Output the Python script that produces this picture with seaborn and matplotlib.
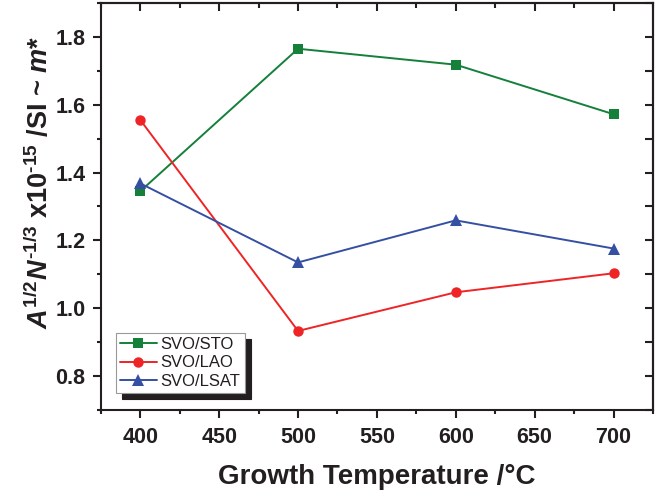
import matplotlib
matplotlib.use('Agg')
import matplotlib.pyplot as plt
import pandas as pd
import seaborn as sns
from matplotlib.ticker import MultipleLocator

temperature = [400, 500, 600, 700]
svo_sto = [1.345, 1.765, 1.718, 1.572]
svo_lao = [1.555, 0.933, 1.047, 1.103]
svo_lsat = [1.368, 1.135, 1.259, 1.176]

series_names = ['SVO/STO', 'SVO/LAO', 'SVO/LSAT']
series_colors = ['#14803a', '#ee2426', '#3550a2']
series_markers = ['s', 'o', '^']

sns.set_style('ticks')
plt.rcParams['font.family'] = ['Liberation Sans', 'DejaVu Sans']
plt.rcParams['font.weight'] = 'bold'
plt.rcParams['xtick.labelsize'] = 15.5
plt.rcParams['ytick.labelsize'] = 15.5
plt.rcParams['mathtext.fontset'] = 'custom'
plt.rcParams['mathtext.rm'] = 'Liberation Sans:bold'
plt.rcParams['mathtext.it'] = 'Liberation Sans:italic:bold'
plt.rcParams['mathtext.bf'] = 'Liberation Sans:bold'
ink = '#231f20'

df = pd.DataFrame({
    'temp': temperature * 3,
    'value': svo_sto + svo_lao + svo_lsat,
    'sample': [n for n in series_names for _ in temperature],
})

fig = plt.figure(figsize=(6.68, 4.91), dpi=100)
ax = fig.add_axes([0.151, 0.165, 0.8265, 0.829])

for name, color, marker in zip(series_names, series_colors, series_markers):
    sns.lineplot(data=df[df['sample'] == name], x='temp', y='value',
                 color=color, marker=marker, markersize=8.5 if marker == '^' else 7.5,
                 markeredgewidth=0, linewidth=1.4, label=name, ax=ax)

ax.set_xlim(375, 725)
ax.set_ylim(0.7, 1.9)
ax.xaxis.set_major_locator(MultipleLocator(50))
ax.xaxis.set_minor_locator(MultipleLocator(25))
ax.set_yticks([0.8, 1.0, 1.2, 1.4, 1.6, 1.8])
ax.set_yticklabels(['0.8', '1.0', '1.2', '1.4', '1.6', '1.8'])
ax.yaxis.set_minor_locator(MultipleLocator(0.1))

for s in ax.spines.values():
    s.set_linewidth(1.5)
    s.set_color(ink)
    s.set_visible(True)
ax.tick_params(which='major', direction='out', length=5.5, width=1.5,
               color=ink, labelcolor=ink, labelsize=15.5)
ax.tick_params(which='minor', direction='out', length=3, width=1.5, color=ink)
ax.tick_params(axis='x', which='major', pad=6.5)
ax.tick_params(axis='y', which='major', pad=5.5)
for lab in ax.get_xticklabels() + ax.get_yticklabels():
    lab.set_fontsize(15.5)
    lab.set_fontweight('bold')

top = ax.secondary_xaxis('top')
top.xaxis.set_major_locator(MultipleLocator(50))
top.xaxis.set_minor_locator(MultipleLocator(25))
top.tick_params(which='major', direction='in', length=6, width=1.5, color=ink, labeltop=False)
top.tick_params(which='minor', direction='in', length=3.5, width=1.5, color=ink)
top.spines['top'].set_linewidth(1.5)
right = ax.secondary_yaxis('right')
right.yaxis.set_major_locator(MultipleLocator(0.1))
right.yaxis.set_minor_locator(MultipleLocator(0.1))
right.tick_params(which='major', direction='in', length=6, width=1.5, color=ink, labelright=False)
right.spines['right'].set_linewidth(1.5)

ax.set_xlabel('Growth Temperature /°C', fontsize=20, fontweight='bold', color=ink)
ax.xaxis.set_label_coords(0.5, -0.133)
ax.set_ylabel(r'$A^{\mathrm{1/2}}N^{\text{-1/3}}$ x10$^{\text{-15}}$ /SI ~ $m$*',
              fontsize=19.5, fontweight='bold', color=ink)
ax.yaxis.set_label_coords(-0.084, 0.56)

leg = ax.legend(loc='lower left', bbox_to_anchor=(0.027, 0.042), borderaxespad=0,
                prop={'size': 12, 'weight': 'normal'}, fancybox=False,
                edgecolor='#9a9a9a', framealpha=1,
                handlelength=2.2, handletextpad=0.25, labelspacing=0.2, borderpad=0.25,
                shadow={'ox': 4.5, 'oy': -4.5, 'color': ink, 'alpha': 1})
leg.get_frame().set_linewidth(0.8)
for t in leg.get_texts():
    t.set_color(ink)

fig.savefig('out.png', dpi=100)
